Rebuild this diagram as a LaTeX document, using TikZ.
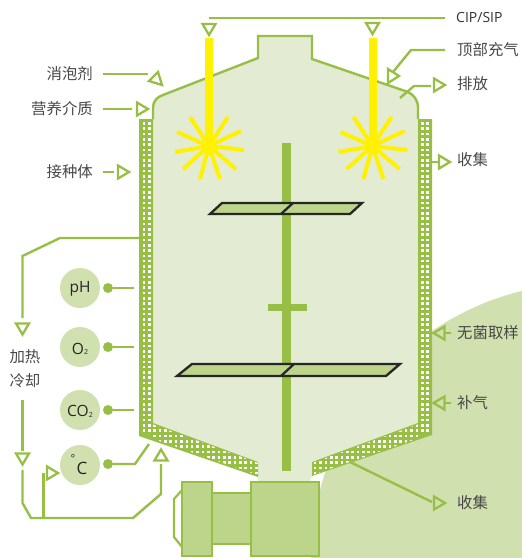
\documentclass[tikz,border=0pt]{standalone}
\usepackage{fontspec}
\setmainfont{Open Sans}
\newfontfamily\cjk{Noto Sans CJK SC}
\definecolor{gr}{HTML}{97BF45}
\definecolor{bgc}{HTML}{D1E0AF}
\definecolor{inner}{HTML}{E3EBD3}
\definecolor{paddle}{HTML}{BCD58A}
\definecolor{yel}{HTML}{FFF100}
\definecolor{txt}{HTML}{484848}
\tikzset{
  x=1pt,y=-1pt,
  pipe/.style={draw=gr,line width=2.4pt,line join=miter},
  cn/.style={font=\cjk\fontsize{15.4}{15.4}\selectfont,text=txt,inner sep=0pt},
  lt/.style={font=\fontsize{14}{14}\selectfont,text=black!80,inner sep=0pt},
  gauge/.style={circle,fill=bgc,minimum size=40pt,inner sep=0pt},
  gtext/.style={font=\fontsize{15.5}{15.5}\selectfont,text=black!85,inner sep=0pt},
  dotn/.style={circle,fill=gr,minimum size=10pt,inner sep=0pt},
  ray/.style={draw=yel,line width=4pt},
  mot/.style={draw=gr,line width=2.6pt,fill=paddle},
  blade/.style={draw=black!85,line width=2.3pt,fill=paddle,line join=miter},
  tri/.pic={\draw[draw=gr,line width=2.3pt,line join=miter] (-5.5,-6.5) -- (5.5,0) -- (-5.5,6.5) -- cycle;}
}
\newcommand{\subtwo}{\raisebox{-0.5pt}{\fontsize{7}{7}\selectfont 2}}
\begin{document}
\begin{tikzpicture}
\useasboundingbox (0,0) rectangle (522,558);
% background disc
\begin{scope}
\clip (0,0) rectangle (522,558);
\fill[bgc] (588,560) circle[radius=277];
\end{scope}
% vessel interior
\fill[inner] (153,119) -- (153,108) .. controls (153,101) and (157,97) .. (163,95) -- (258,58) -- (258,36) -- (312,36) -- (312,59) -- (408,92) .. controls (414,95) and (418,100) .. (418,108) -- (418,423) -- (312,462) -- (312,476) -- (304,500) -- (258,500) -- (258,477) -- (153,423) -- cycle;
\draw[pipe] (153,119) -- (153,108) .. controls (153,101) and (157,97) .. (163,95) -- (258,58) -- (258,36) -- (312,36) -- (312,59) -- (408,92) .. controls (414,95) and (418,100) .. (418,108) -- (418,119);
% jacket
\fill[gr] (139,119) -- (153,119) -- (153,423) -- (258,462) -- (258,477) -- (139,436) -- cycle;
\fill[gr] (418,119) -- (432,119) -- (432,435) -- (312,476) -- (312,462) -- (418,423) -- cycle;
\begin{scope}
\clip (140.5,119) -- (151.8,119) -- (151.8,424) -- (258,463) -- (258,475) -- (140.5,434.5) -- cycle;
\foreach \i in {0,...,58}{\foreach \cx in {144,149.4}{\fill[white] (\cx-1.3,122+\i*5.3) rectangle ++(2.6,2.6);}}
\foreach \j in {2,...,21}{\foreach \i in {56,...,67}{\fill[white] (144+\j*5.35-1.3,122+\i*5.3) rectangle ++(2.6,2.6);}}
\end{scope}
\begin{scope}
\clip (419.2,119) -- (430.5,119) -- (430.5,434) -- (312,475) -- (312,463) -- (419.2,424) -- cycle;
\foreach \i in {0,...,58}{\foreach \cx in {422.2,427.5}{\fill[white] (\cx-1.3,122+\i*5.3) rectangle ++(2.6,2.6);}}
\foreach \j in {2,...,22}{\foreach \i in {56,...,67}{\fill[white] (427.5-\j*5.35-1.3,122+\i*5.3) rectangle ++(2.6,2.6);}}
\end{scope}
% spargers
\foreach \cx/\nm in {209/a,372.5/b}{
  \coordinate (star\nm) at (\cx,146);
  \fill[yel] (\cx-4,38) rectangle (\cx+4,146);
  \foreach \dx/\dy in {-19/-29,19/-29,32/-15,-32/-14,-34/6,35/4,-26/23,27/23,-9/33,11/33}{
    \draw[ray] (star\nm) -- ++(\dx,\dy);
  }
  \fill[yel] (star\nm) circle[radius=7];
}
% shaft and blades
\fill[gr] (282,143) rectangle (291,471);
\fill[gr] (268,304) rectangle (307,311);
\draw[blade] (210,214) -- (222,203) -- (362,203) -- (350,214) -- cycle;
\draw[blade] (281,214) -- (293,203);
\draw[blade] (177,376) -- (192,364) -- (400,364) -- (386,376) -- cycle;
\draw[blade] (281,376) -- (294,364);
% motor
\draw[draw=gr,line width=2.2pt] (182,490) -- (174,499) -- (174,537) -- (182,547);
\node[mot,minimum width=39pt,minimum height=51pt,inner sep=0pt] (coupling) at (231.5,518.5) {};
\node[mot,minimum width=30pt,minimum height=74pt,inner sep=0pt] (gear) at (197,519) {};
\node[mot,minimum width=68pt,minimum height=74pt,inner sep=0pt] (motor) at (285,519) {};
% gauges
\node[gauge] (ph) at (80,288) {};
\node[gauge] (o2) at (80,347) {};
\node[gauge] (co2) at (80,410) {};
\node[gauge] (temp) at (80,465) {};
\node[gtext] (phT) at (80,288.5) {pH};
\node[gtext] (o2T) at (80,349) {O\subtwo};
\node[gtext] (co2T) at (80,411.5) {CO\subtwo};
\node[font=\fontsize{11}{11}\selectfont,text=black!85,inner sep=0pt] (deg) at (73,459) {°};
\node[font=\fontsize{17}{17}\selectfont,text=black!85,inner sep=0pt] (cel) at (82,468) {C};
\node[dotn] (dph) at (108,288) {};
\node[dotn] (do2) at (108,347) {};
\node[dotn] (dco2) at (108,410) {};
\node[dotn] (dt) at (108,464) {};
\coordinate (eph) at (134,288);
\coordinate (eo2) at (134,347);
\coordinate (eco2) at (134,410);
\coordinate (et1) at (135,464);
\coordinate (et2) at (149,444);
\draw[pipe] (dph) -- (eph);
\draw[pipe] (do2) -- (eo2);
\draw[pipe] (dco2) -- (eco2);
\draw[pipe] (dt) -- (et1) -- (et2);
% left labels
\node[cn,anchor=east] (foam) at (93,74) {消泡剂};
\node[cn,anchor=east] (feed) at (93,109) {营养介质};
\node[cn,anchor=east] (inoc) at (93,172) {接种体};
\coordinate (foamT) at (148,74);
\coordinate (feedT) at (132,109);
\coordinate (inocT) at (114,172);
\draw[pipe] ([xshift=10pt]foam.east) -- (foamT);
\draw[pipe] ([xshift=10pt]feed.east) -- (feedT);
\draw[pipe] ([xshift=10pt]inoc.east) -- (inocT);
\draw[draw=gr,line width=2.3pt,line join=miter] (158,72) -- (149,81) -- (162,85) -- cycle;
\pic at (142.5,109) {tri};
\pic at (123.5,172) {tri};
% heating loop
\node[cn] (heat) at (25,357) {加热};
\node[cn] (cool) at (25,381) {冷却};
\coordinate (j1) at (139,238);
\coordinate (j2) at (60,238);
\coordinate (j3) at (22.5,256);
\coordinate (j4) at (22.5,318);
\draw[pipe] (j1) -- (j2) -- (j3) -- (j4);
\pic[rotate=-90] at (22.5,329) {tri};
\coordinate (r1) at (22.5,400);
\coordinate (r2) at (22.5,451);
\draw[pipe] (r1) -- (r2);
\pic[rotate=-90] at (22.5,459) {tri};
\coordinate (r3) at (22.5,470);
\coordinate (r4) at (22.5,503);
\coordinate (r5) at (31,518);
\coordinate (r6) at (133,518);
\coordinate (r7) at (161,494);
\coordinate (r8) at (161,464);
\draw[pipe] (r3) -- (r4) -- (r5) -- (r6) -- (r7) -- (r8);
\pic[rotate=90] at (161,455) {tri};
\coordinate (t1) at (43.5,518);
\coordinate (t2) at (43.5,473);
\draw[pipe] (t1) -- (t2);
\pic at (52.5,473) {tri};
% top line
\coordinate (cipA) at (209,18);
\node[lt,anchor=west] (cip) at (456,17) {CIP/SIP};
\draw[pipe] (cipA) -- ([xshift=-11pt]cip.west |- cipA);
\pic[rotate=-90] at (209,29.5) {tri};
\pic[rotate=-90] at (372.5,28.5) {tri};
% right labels
\node[cn,anchor=west] (topair) at (457,50) {顶部充气};
\node[cn,anchor=west] (vent) at (457,84) {排放};
\node[cn,anchor=west] (coll1) at (457,160) {收集};
\node[cn,anchor=west] (sample) at (457,333) {无菌取样};
\node[cn,anchor=west] (air) at (457,403) {补气};
\node[cn,anchor=west] (coll2) at (457,503) {收集};
\coordinate (ta1) at (411,50);
\coordinate (ta2) at (393,72);
\draw[pipe] ([xshift=-12pt]topair.west) -- (ta1) -- (ta2);
\draw[draw=gr,line width=2.3pt,line join=miter] (388,69) -- (399,76) -- (388,83) -- cycle;
\coordinate (v1) at (400,98);
\coordinate (v2) at (414,86);
\coordinate (v3) at (431,86);
\draw[pipe] (v1) -- (v2) -- (v3);
\pic at (439.5,85) {tri};
\coordinate (c1a) at (432,162);
\coordinate (c1b) at (438,162);
\draw[pipe] (c1a) -- (c1b);
\pic at (444.5,162) {tri};
\coordinate (sa) at (445,333);
\draw[pipe] ([xshift=-6pt]sample.west) -- (sa);
\pic[rotate=180] at (439,333) {tri};
\coordinate (aa) at (445,403);
\draw[pipe] ([xshift=-6pt]air.west) -- (aa);
\pic[rotate=180] at (439,403) {tri};
\coordinate (c2a) at (350,462);
\coordinate (c2b) at (432,502);
\draw[pipe] (c2a) -- (c2b);
\pic at (439.5,503) {tri};
\end{tikzpicture}
\end{document}
